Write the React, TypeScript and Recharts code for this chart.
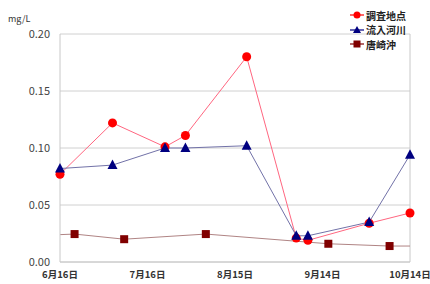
import React from 'react';
import { LineChart, Line, XAxis, YAxis, CartesianGrid, ReferenceLine } from 'recharts';

// days counted from 6月16日
const siteDays = [0, 18, 36, 43, 64, 81, 85, 106, 120];
const siteValues = [0.077, 0.122, 0.101, 0.111, 0.18, 0.021, 0.019, 0.034, 0.043];
const riverValues = [0.082, 0.085, 0.1, 0.1, 0.102, 0.023, 0.023, 0.035, 0.094];
const offshoreDays = [0, 5, 22, 50, 92, 113, 120];
const offshoreValues = [0.024, 0.0245, 0.02, 0.0245, 0.016, 0.014, 0.014];
const offshoreMarked = [false, true, true, true, true, true, false];

const tickDays = [0, 30, 60, 90, 120];
const tickLabels = ['6月16日', '7月16日', '8月15日', '9月14日', '10月14日'];
const yTicks = [0, 0.05, 0.1, 0.15, 0.2];

const seriesNames = ['調査地点', '流入河川', '唐崎沖'];
const markerColors = ['#ff0000', '#000080', '#800000'];
const lineColors = ['#ff6680', '#7272a8', '#b08484'];

const siteData = siteDays.map((day, i) => ({ day, value: siteValues[i] }));
const riverData = siteDays.map((day, i) => ({ day, value: riverValues[i] }));
const offshoreData = offshoreDays.map((day, i) => ({ day, value: offshoreValues[i], marked: offshoreMarked[i] }));

const font = '"Noto Sans CJK JP", "Noto Sans", sans-serif';

const CircleDot = (props: any) => {
  const { cx, cy, index } = props;
  return <circle key={index} cx={cx} cy={cy} r={4.5} fill={markerColors[0]} />;
};

const TriangleDot = (props: any) => {
  const { cx, cy, index } = props;
  return (
    <polygon
      key={index}
      points={`${cx},${cy - 5.5} ${cx - 5},${cy + 4} ${cx + 5},${cy + 4}`}
      fill={markerColors[1]}
    />
  );
};

const SquareDot = (props: any) => {
  const { cx, cy, index, payload } = props;
  if (!payload.marked) return <g key={index} />;
  return <rect key={index} x={cx - 4} y={cy - 4} width={8} height={8} fill={markerColors[2]} />;
};

const legendMarker = (i: number) => {
  if (i === 0) return <circle cx={7} cy={6} r={3.5} fill={markerColors[0]} />;
  if (i === 1) return <polygon points="7,2 3,9 11,9" fill={markerColors[1]} />;
  return <rect x={3.5} y={2.5} width={7} height={7} fill={markerColors[2]} />;
};

const App: React.FC = () => {
  return (
    <div style={{ position: 'absolute', left: 0, top: 0, width: 430, height: 284, background: '#fff', fontFamily: font }}>
      <div style={{ position: 'absolute', left: 8, top: 12, fontSize: 9, color: '#333' }}>mg/L</div>
      <div style={{ position: 'absolute', left: 350, top: 8, zIndex: 2 }}>
        {seriesNames.map((name, i) => (
          <div key={name} style={{ display: 'flex', alignItems: 'center', height: 14.5, fontSize: 10, fontWeight: 600, color: '#222' }}>
            <svg width={15} height={12} style={{ marginRight: 1 }}>
              <line x1={0} y1={6} x2={14} y2={6} stroke={markerColors[i]} strokeWidth={1.2} />
              {legendMarker(i)}
            </svg>
            {name}
          </div>
        ))}
      </div>
      <LineChart width={430} height={284} margin={{ top: 34, right: 20, bottom: 4, left: 0 }}>
        <CartesianGrid vertical={false} stroke="#d0d0d0" />
        <XAxis
          type="number"
          dataKey="day"
          domain={[0, 120]}
          ticks={tickDays}
          tickFormatter={(v: number) => tickLabels[tickDays.indexOf(v)]}
          tick={{ fontSize: 9.5, fontWeight: 700, fill: '#333', fontFamily: font }}
          tickLine={false}
          axisLine={{ stroke: '#c8c8c8' }}
          height={18}
          tickMargin={3}
          allowDuplicatedCategory={false}
        />
        <YAxis
          domain={[0, 0.2]}
          ticks={yTicks}
          tickFormatter={(v: number) => v.toFixed(2)}
          tick={{ fontSize: 11, fill: '#444', fontFamily: font }}
          tickLine={false}
          axisLine={{ stroke: '#c8c8c8' }}
          width={60}
          tickSize={0}
          tickMargin={10}
        />
        <ReferenceLine x={120} stroke="#c8c8c8" />
        <Line
          data={siteData}
          dataKey="value"
          type="linear"
          stroke={lineColors[0]}
          strokeWidth={1}
          dot={CircleDot}
          activeDot={false}
          isAnimationActive={false}
        />
        <Line
          data={riverData}
          dataKey="value"
          type="linear"
          stroke={lineColors[1]}
          strokeWidth={1}
          dot={TriangleDot}
          activeDot={false}
          isAnimationActive={false}
        />
        <Line
          data={offshoreData}
          dataKey="value"
          type="linear"
          stroke={lineColors[2]}
          strokeWidth={1}
          dot={SquareDot}
          activeDot={false}
          isAnimationActive={false}
        />
      </LineChart>
    </div>
  );
};

export default App;
